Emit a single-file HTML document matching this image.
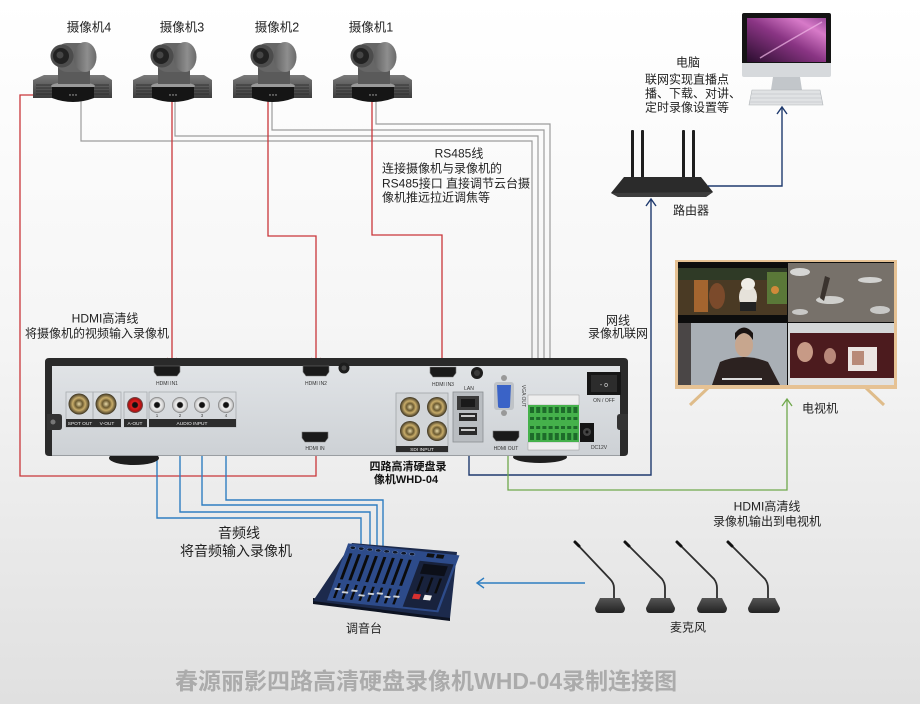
<!DOCTYPE html>
<html><head><meta charset="utf-8">
<style>
html,body{margin:0;padding:0;background:#fff;}
svg{display:block;}
text{font-family:"Liberation Sans","Noto Sans CJK SC","WenQuanYi Zen Hei",sans-serif;}
</style></head><body>
<svg width="920" height="704" viewBox="0 0 920 704" xmlns="http://www.w3.org/2000/svg">
<defs>
<linearGradient id="bg" x1="0" y1="0" x2="0" y2="1">
<stop offset="0" stop-color="#ffffff"/><stop offset="0.45" stop-color="#f6f6f6"/><stop offset="1" stop-color="#e0e0e0"/>
</linearGradient>
<linearGradient id="panel" x1="0" y1="0" x2="0" y2="1"><stop offset="0" stop-color="#e0e3e6"/><stop offset="1" stop-color="#cdd1d5"/></linearGradient>
<linearGradient id="cb" x1="0" y1="0" x2="0" y2="1"><stop offset="0" stop-color="#7a7a7a"/><stop offset="1" stop-color="#3c3c3c"/></linearGradient>
<linearGradient id="ch" x1="0" y1="0" x2="1" y2="0"><stop offset="0" stop-color="#5e5e5e"/><stop offset="0.6" stop-color="#8e8e8e"/><stop offset="1" stop-color="#6a6a6a"/></linearGradient>
<linearGradient id="scr" x1="0" y1="1" x2="1" y2="0"><stop offset="0" stop-color="#2a0d2e"/><stop offset="0.5" stop-color="#8a3584"/><stop offset="0.8" stop-color="#d77ac8"/><stop offset="1" stop-color="#9a4a9a"/></linearGradient>
<radialGradient id="bnc" cx="0.5" cy="0.5" r="0.5"><stop offset="0" stop-color="#e8d9a8"/><stop offset="0.35" stop-color="#6b5a30"/><stop offset="0.6" stop-color="#c9ad6a"/><stop offset="1" stop-color="#3a3220"/></radialGradient>
<radialGradient id="rca" cx="0.5" cy="0.5" r="0.5"><stop offset="0" stop-color="#111"/><stop offset="0.3" stop-color="#111"/><stop offset="0.45" stop-color="#f4f4f4"/><stop offset="0.8" stop-color="#cfcfcf"/><stop offset="1" stop-color="#777"/></radialGradient>
<radialGradient id="rcar" cx="0.5" cy="0.5" r="0.5"><stop offset="0" stop-color="#111"/><stop offset="0.3" stop-color="#111"/><stop offset="0.45" stop-color="#e02020"/><stop offset="0.8" stop-color="#b01010"/><stop offset="1" stop-color="#555"/></radialGradient>
<linearGradient id="mb" x1="0" y1="0" x2="0" y2="1"><stop offset="0" stop-color="#555"/><stop offset="1" stop-color="#222"/></linearGradient>
<g id="cam">
 <path d="M44,75 L104,75 L112,80 L112,98 L33,98 L33,80 Z" fill="url(#cb)"/>
 <g stroke="#2a2a2a" stroke-width="0.8">
  <line x1="36" y1="85" x2="52" y2="85"/><line x1="36" y1="88" x2="52" y2="88"/><line x1="36" y1="91" x2="52" y2="91"/><line x1="36" y1="94" x2="52" y2="94"/>
  <line x1="94" y1="85" x2="109" y2="85"/><line x1="94" y1="88" x2="109" y2="88"/><line x1="94" y1="91" x2="109" y2="91"/><line x1="94" y1="94" x2="109" y2="94"/>
 </g>
 <ellipse cx="73" cy="86" rx="22" ry="4" fill="#9a9a9a"/>
 <path d="M52,87 L94,87 L94,98 Q73,106 52,98 Z" fill="#151515"/>
 <circle cx="70" cy="95" r="0.7" fill="#bbb"/><circle cx="73" cy="95" r="0.7" fill="#bbb"/><circle cx="76" cy="95" r="0.7" fill="#bbb"/>
 <path d="M58,84 L58,66 Q58,60 64,60 L84,60 Q90,60 90,66 L90,84 Z" fill="#5a5a5a"/>
 <rect x="56" y="43" width="38" height="29" rx="11" fill="#666"/>
 <ellipse cx="85" cy="57" rx="11.5" ry="15" fill="url(#ch)"/>
 <circle cx="62" cy="56" r="11.5" fill="#4c4c4c"/>
 <circle cx="61" cy="56" r="8" fill="#222"/>
 <circle cx="60" cy="55" r="3.5" fill="#454545"/>
</g>
</defs>

<rect x="0" y="0" width="920" height="704" fill="url(#bg)"/>

<!-- grey RS485 lines -->
<g fill="none" stroke="#9c9c9c" stroke-width="1.2">
 <path d="M376,100 V124 H550 V396"/>
 <path d="M272,100 V130 H544 V396"/>
 <path d="M175,100 V136 H538 V396"/>
 <path d="M81,100 V141 H532 V396"/>
</g>
<!-- red HDMI lines -->
<g fill="none" stroke="#c9363a" stroke-width="1.3">
 <path d="M172,100 V365"/>
 <path d="M268,100 V236 H316 V365"/>
 <path d="M372,100 V235 H442 V366"/>
 <path d="M36,95 H20 V476 H316 V444"/>
 <polyline points="167,358 172,365 177,358"/>
 <polyline points="311,358 316,365 321,358"/>
 <polyline points="437,359 442,366 447,359"/>
 <polyline points="311,451 316,444 321,451"/>
</g>
<!-- blue audio lines -->
<g fill="none" stroke="#2f7ec1" stroke-width="1.4">
 <path d="M157,431 V518 H361 V546"/>
 <path d="M180,431 V512 H370 V546"/>
 <path d="M202,431 V505 H377 V546"/>
 <path d="M226,431 V500 H383 V546"/>
 <polyline points="152,438 157,431 162,438"/>
 <polyline points="175,438 180,431 185,438"/>
 <polyline points="197,438 202,431 207,438"/>
 <polyline points="221,438 226,431 231,438"/>
 <path d="M585,583 H477"/>
 <polyline points="484,578 477,583 484,588"/>
</g>
<!-- network -->
<g fill="none" stroke="#1f3a6e" stroke-width="1.4">
 <path d="M469,442 V475 H651 V199"/>
 <polyline points="646,206 651,199 656,206"/>
 <path d="M708,186 H782 V107"/>
 <polyline points="777,114 782,107 787,114"/>
</g>
<!-- green HDMI out -->
<g fill="none" stroke="#6fa84c" stroke-width="1.3">
 <path d="M508,442 V490 H787 V399"/>
 <polyline points="782,406 787,399 792,406"/>
</g>

<!-- cameras -->
<use href="#cam" x="0" y="0"/>
<use href="#cam" x="100" y="0"/>
<use href="#cam" x="200" y="0"/>
<use href="#cam" x="300" y="0"/>

<!-- camera labels -->
<g font-size="12.5" fill="#222" text-anchor="middle">
 <text x="89" y="31.5">摄像机4</text>
 <text x="182" y="31.5">摄像机3</text>
 <text x="277" y="31.5">摄像机2</text>
 <text x="371" y="31.5">摄像机1</text>
</g>

<!-- RS485 text -->
<g font-size="12" fill="#222">
 <text x="459" y="157.5" text-anchor="middle">RS485线</text>
 <text x="382" y="172.5">连接摄像机与录像机的</text>
 <text x="382" y="187.5">RS485接口 直接调节云台摄</text>
 <text x="382" y="201.5">像机推远拉近调焦等</text>
</g>

<!-- PC -->
<rect x="742" y="13" width="89" height="52" rx="2" fill="#141414"/>
<rect x="747" y="18" width="79" height="44" fill="url(#scr)"/>
<path d="M760,58 Q790,40 822,22" stroke="#f2b8e8" stroke-width="1.5" fill="none" opacity="0.7"/>
<path d="M742,63 h89 v12 q0,2 -2,2 h-85 q-2,0 -2,-2z" fill="#d6d9dc"/>
<path d="M773,77 h27 l2,13 h-31z" fill="#c2c6ca"/>
<path d="M752,90 h68 l3,15 h-74z" fill="#e0e2e4" stroke="#aeb2b6" stroke-width="0.6"/>
<g stroke="#b8bcc0" stroke-width="0.6">
 <line x1="752" y1="94" x2="821" y2="94"/><line x1="751" y1="98" x2="822" y2="98"/><line x1="750" y1="102" x2="822" y2="102"/>
</g>
<g font-size="12" fill="#222">
 <text x="688" y="66.5" text-anchor="middle">电脑</text>
 <text x="645" y="83.5">联网实现直播点</text>
 <text x="645" y="97.5">播、下载、对讲、</text>
 <text x="645" y="111.5">定时录像设置等</text>
</g>

<!-- router -->
<g fill="#1e1e1e">
 <rect x="631" y="130" width="3" height="50" rx="1"/>
 <rect x="641" y="130" width="3" height="50" rx="1"/>
 <rect x="682" y="130" width="3" height="50" rx="1"/>
 <rect x="692" y="130" width="3" height="50" rx="1"/>
</g>
<path d="M611,193 L624,177 L701,177 L713,192 L706,197 L618,197 Z" fill="#2b2b2b"/>
<path d="M611,193 L713,192 L706,197 L618,197 Z" fill="#3d3d3d"/>
<text x="691" y="214.5" font-size="12" fill="#222" text-anchor="middle">路由器</text>

<!-- network labels -->
<g font-size="12" fill="#222" text-anchor="middle">
 <text x="618" y="324.5">网线</text>
 <text x="618" y="337.5">录像机联网</text>
 <text x="105" y="322.5">HDMI高清线</text>
 <text x="97" y="337.5">将摄像机的视频输入录像机</text>
</g>

<!-- TV -->
<line x1="690" y1="405" x2="708" y2="388" stroke="#dfbc8a" stroke-width="3"/>
<line x1="884" y1="405" x2="866" y2="388" stroke="#dfbc8a" stroke-width="3"/>
<rect x="675" y="260" width="222" height="129" fill="#e6c294"/>
<rect x="678" y="262" width="216" height="123" fill="#0d0d0d"/>
<!-- TL quadrant -->
<rect x="678" y="268" width="109" height="47" fill="#4a3a24"/>
<rect x="678" y="268" width="109" height="12" fill="#2f3a26"/>
<rect x="694" y="280" width="14" height="32" fill="#a4652f"/>
<ellipse cx="717" cy="296" rx="8" ry="13" fill="#7b4a2b"/>
<ellipse cx="748" cy="297" rx="9" ry="12" fill="#e6e2da"/>
<ellipse cx="748" cy="284" rx="7" ry="6" fill="#f0ede6"/>
<rect x="740" y="302" width="16" height="9" fill="#222"/>
<rect x="767" y="272" width="20" height="32" fill="#5a7838"/>
<circle cx="775" cy="290" r="4" fill="#d08a3a"/>
<!-- TR quadrant -->
<rect x="788" y="263" width="106" height="59" fill="#77716a"/>
<ellipse cx="800" cy="272" rx="10" ry="4" fill="#d6d6d4"/>
<ellipse cx="830" cy="300" rx="14" ry="4" fill="#cfcfcc"/>
<ellipse cx="870" cy="280" rx="12" ry="3" fill="#d2d2d0"/>
<ellipse cx="880" cy="310" rx="10" ry="4" fill="#c8c8c6"/>
<ellipse cx="800" cy="312" rx="8" ry="3" fill="#c8c8c6"/>
<path d="M820,298 l5,-22 l5,2 l-6,23z" fill="#3a332e"/>
<!-- BL quadrant -->
<rect x="678" y="323" width="109" height="62" fill="#a9afb5"/>
<rect x="678" y="323" width="13" height="62" fill="#4a4646"/>
<path d="M712,385 L720,362 Q743,352 768,362 L780,385 Z" fill="#2c2220"/>
<ellipse cx="744" cy="345" rx="9" ry="12" fill="#c7a68e"/>
<path d="M735,340 Q744,326 753,340 L753,333 Q744,322 735,333 Z" fill="#1b1412"/>
<rect x="722" y="378" width="40" height="2" fill="#ddd"/>
<!-- BR quadrant -->
<rect x="788" y="323" width="106" height="62" fill="#d4d7d8"/>
<rect x="790" y="333" width="104" height="45" fill="#4c1b1e"/>
<ellipse cx="805" cy="352" rx="8" ry="10" fill="#c79a86"/>
<ellipse cx="830" cy="356" rx="6" ry="8" fill="#b8887a"/>
<rect x="848" y="347" width="29" height="24" fill="#ebe5e2"/>
<rect x="852" y="351" width="12" height="14" fill="#b88a78"/>
<rect x="790" y="378" width="104" height="7" fill="#e2e2e2"/>
<text x="820" y="412.5" font-size="12" fill="#222" text-anchor="middle">电视机</text>

<!-- recorder -->
<ellipse cx="134" cy="458" rx="25" ry="7" fill="#1e1e1e"/>
<ellipse cx="540" cy="457" rx="27" ry="6" fill="#1e1e1e"/>
<path d="M45,362 Q45,358 49,358 L624,358 Q628,358 628,362 L628,452 Q628,456 624,456 L49,456 Q45,456 45,452 Z" fill="#2a2a2a"/>
<rect x="52" y="366" width="568" height="90" fill="url(#panel)"/>
<line x1="52" y1="455.5" x2="620" y2="455.5" stroke="#9a9ea2" stroke-width="1"/>
<path d="M47,414 h12 q3,0 3,3 v10 q0,3 -3,3 h-12z" fill="#333"/>
<circle cx="53" cy="422" r="2.5" fill="#777"/>
<path d="M628,414 h-8 q-3,0 -3,3 v10 q0,3 3,3 h8z" fill="#333"/>
<!-- round ports -->
<circle cx="344" cy="368" r="5.5" fill="#1d1d1d"/><circle cx="344" cy="368" r="2.5" fill="#444"/>
<circle cx="477" cy="373" r="6" fill="#1d1d1d"/><circle cx="477" cy="373" r="3" fill="#3a3a3a"/>
<!-- HDMI ports -->
<g fill="#1a1a1a" stroke="#777" stroke-width="0.6">
 <path d="M154,366 h26 v6 l-3,4 h-20 l-3,-4z"/>
 <path d="M303,366 h26 v6 l-3,4 h-20 l-3,-4z"/>
 <path d="M430,367 h26 v6 l-3,4 h-20 l-3,-4z"/>
 <path d="M302,432 h26 v6 l-3,4 h-20 l-3,-4z"/>
 <path d="M493,431 h26 v6 l-3,4 h-20 l-3,-4z"/>
</g>
<g font-size="5" fill="#333" text-anchor="middle">
 <text x="167" y="385">HDMI IN1</text>
 <text x="316" y="385">HDMI IN2</text>
 <text x="443" y="386">HDMI IN3</text>
 <text x="315" y="450">HDMI  IN</text>
 <text x="506" y="450">HDMI OUT</text>
 <text x="469" y="390">LAN</text>
 <text x="604" y="402">ON / OFF</text>
 <text x="599" y="449">DC12V</text>
</g>
<!-- left connector groups -->
<g fill="none" stroke="#a8acb0" stroke-width="0.8">
 <rect x="66" y="392" width="27" height="35"/>
 <rect x="93" y="392" width="28" height="35"/>
 <rect x="124" y="392" width="23" height="35"/>
 <rect x="149" y="392" width="87" height="35"/>
</g>
<rect x="66" y="419" width="170" height="8" fill="#2d2d2d"/>
<rect x="121" y="419" width="3" height="8" fill="#d4d7da"/>
<rect x="147" y="419" width="2" height="8" fill="#d4d7da"/>
<g font-size="4.8" fill="#eee" text-anchor="middle">
 <text x="80" y="425">SPOT OUT</text>
 <text x="107" y="425">V-OUT</text>
 <text x="135" y="425">A-OUT</text>
 <text x="192" y="425">AUDIO  INPUT</text>
</g>
<g font-size="4.5" fill="#444" text-anchor="middle">
 <text x="157" y="417">1</text><text x="180" y="417">2</text><text x="202" y="417">3</text><text x="226" y="417">4</text>
</g>
<circle cx="79" cy="404" r="10.5" fill="url(#bnc)"/>
<circle cx="106" cy="404" r="10.5" fill="url(#bnc)"/>
<circle cx="135" cy="405" r="8" fill="url(#rcar)"/>
<circle cx="157" cy="405" r="8" fill="url(#rca)"/>
<circle cx="180" cy="405" r="8" fill="url(#rca)"/>
<circle cx="202" cy="405" r="8" fill="url(#rca)"/>
<circle cx="226" cy="405" r="8" fill="url(#rca)"/>
<!-- SDI -->
<rect x="396" y="393" width="52" height="59" fill="#d2d5d8" stroke="#a0a4a8" stroke-width="0.8"/>
<circle cx="410" cy="407" r="10" fill="url(#bnc)"/>
<circle cx="437" cy="407" r="10" fill="url(#bnc)"/>
<circle cx="410" cy="431" r="10" fill="url(#bnc)"/>
<circle cx="437" cy="431" r="10" fill="url(#bnc)"/>
<rect x="396" y="446" width="52" height="6" fill="#2d2d2d"/>
<text x="422" y="451" font-size="4.8" fill="#eee" text-anchor="middle">SDI  INPUT</text>
<!-- LAN -->
<rect x="453" y="392" width="30" height="50" fill="#b9bdc1" stroke="#8a8e92" stroke-width="0.8"/>
<rect x="457" y="396" width="22" height="14" fill="#3b3b3b"/>
<rect x="461" y="399" width="14" height="8" fill="#1a1a1a"/>
<rect x="459" y="413" width="18" height="8" fill="#2a2a2a"/><rect x="461" y="415" width="14" height="2" fill="#ccc"/>
<rect x="459" y="427" width="18" height="8" fill="#2a2a2a"/><rect x="461" y="429" width="14" height="2" fill="#ccc"/>
<!-- VGA -->
<circle cx="504" cy="378" r="3" fill="#999"/><circle cx="504" cy="413" r="3" fill="#999"/>
<rect x="494" y="382" width="20" height="28" rx="3" fill="#bfc3c7"/>
<path d="M497,385 h14 l-1,21 q0,2 -2,2 h-8 q-2,0 -2,-2z" fill="#3a63c7"/>
<text x="522" y="396" font-size="5" fill="#444" text-anchor="middle" transform="rotate(90 522 396)">VGA OUT</text>
<!-- terminal block -->
<rect x="528" y="395" width="51" height="10" fill="#eeeeee" stroke="#888" stroke-width="0.4"/>
<rect x="528" y="442" width="51" height="8" fill="#eeeeee" stroke="#888" stroke-width="0.4"/>
<rect x="528" y="405" width="51" height="37" fill="#45b14b"/>
<g fill="#1d6b2a">
 <rect x="530" y="407" width="4" height="6"/><rect x="536.2" y="407" width="4" height="6"/><rect x="542.4" y="407" width="4" height="6"/><rect x="548.6" y="407" width="4" height="6"/><rect x="554.8" y="407" width="4" height="6"/><rect x="561" y="407" width="4" height="6"/><rect x="567.2" y="407" width="4" height="6"/><rect x="573.4" y="407" width="4" height="6"/>
 <rect x="530" y="417" width="4" height="3"/><rect x="536.2" y="417" width="4" height="3"/><rect x="542.4" y="417" width="4" height="3"/><rect x="548.6" y="417" width="4" height="3"/><rect x="554.8" y="417" width="4" height="3"/><rect x="561" y="417" width="4" height="3"/><rect x="567.2" y="417" width="4" height="3"/><rect x="573.4" y="417" width="4" height="3"/>
 <rect x="530" y="426" width="4" height="3"/><rect x="536.2" y="426" width="4" height="3"/><rect x="542.4" y="426" width="4" height="3"/><rect x="548.6" y="426" width="4" height="3"/><rect x="554.8" y="426" width="4" height="3"/><rect x="561" y="426" width="4" height="3"/><rect x="567.2" y="426" width="4" height="3"/><rect x="573.4" y="426" width="4" height="3"/>
 <rect x="530" y="433" width="4" height="7"/><rect x="536.2" y="433" width="4" height="7"/><rect x="542.4" y="433" width="4" height="7"/><rect x="548.6" y="433" width="4" height="7"/><rect x="554.8" y="433" width="4" height="7"/><rect x="561" y="433" width="4" height="7"/><rect x="567.2" y="433" width="4" height="7"/><rect x="573.4" y="433" width="4" height="7"/>
</g>
<!-- DC jack & switch -->
<rect x="580" y="423" width="14" height="19" fill="#151515"/>
<circle cx="587" cy="432" r="4" fill="#444"/><circle cx="587" cy="432" r="1.5" fill="#111"/>
<rect x="587" y="372" width="34" height="23" fill="#161616"/>
<rect x="591" y="375" width="26" height="17" fill="#2c2c2c"/>
<text x="604" y="387" font-size="7" fill="#ddd" text-anchor="middle">- o</text>
<!-- recorder label -->
<g font-size="11" font-weight="bold" fill="#111" text-anchor="middle">
 <text x="408" y="470">四路高清硬盘录</text>
 <text x="406" y="483">像机WHD-04</text>
</g>

<!-- bottom labels -->
<g font-size="12" fill="#222" text-anchor="middle">
 <text x="767" y="510.5">HDMI高清线</text>
 <text x="767" y="525.5">录像机输出到电视机</text>
 <text x="364" y="632.5">调音台</text>
 <text x="688" y="631.5">麦克风</text>
</g>
<g font-size="14" fill="#222" text-anchor="middle">
 <text x="239" y="538">音频线</text>
 <text x="236" y="556">将音频输入录像机</text>
</g>

<!-- mixer -->
<path d="M313,598 L450,615 L450,621 L313,604 Z" fill="#0d1322"/>
<path d="M352,543 L457,552 L450,618 L313,601 Z" fill="#1c2a4c"/>
<g transform="matrix(1.21,0.13,-0.23,0.62,344,541)">
 <rect x="4" y="3" width="92" height="92" fill="#2d4b8a"/>
 <g fill="#0f1626" stroke="#7b9ad0" stroke-width="0.4">
  <circle cx="9" cy="9" r="2.3"/><circle cx="16" cy="9" r="2.3"/><circle cx="23" cy="9" r="2.3"/><circle cx="30" cy="9" r="2.3"/><circle cx="37" cy="9" r="2.3"/><circle cx="44" cy="9" r="2.3"/><circle cx="51" cy="9" r="2.3"/><circle cx="58" cy="9" r="2.3"/>
 </g>
 <rect x="70" y="5" width="6" height="6" fill="#111"/><rect x="78" y="5" width="6" height="6" fill="#111"/>
 <g fill="#0b0b0b">
  <rect x="8" y="18" width="2.4" height="42"/><rect x="15" y="18" width="2.4" height="42"/><rect x="22" y="18" width="2.4" height="42"/><rect x="29" y="18" width="2.4" height="42"/><rect x="36" y="18" width="2.4" height="42"/><rect x="43" y="18" width="2.4" height="42"/><rect x="50" y="18" width="2.4" height="42"/><rect x="57" y="18" width="2.4" height="42"/>
  <rect x="8" y="66" width="2" height="24"/><rect x="15" y="66" width="2" height="24"/><rect x="22" y="66" width="2" height="24"/><rect x="29" y="66" width="2" height="24"/><rect x="36" y="66" width="2" height="24"/><rect x="43" y="66" width="2" height="24"/><rect x="50" y="66" width="2" height="24"/><rect x="57" y="66" width="2" height="24"/>
 </g>
 <g fill="#cfd3d8">
  <rect x="6.5" y="74" width="5" height="3"/><rect x="13.5" y="78" width="5" height="3"/><rect x="20.5" y="74" width="5" height="3"/><rect x="27.5" y="80" width="5" height="3"/><rect x="34.5" y="76" width="5" height="3"/><rect x="41.5" y="74" width="5" height="3"/><rect x="48.5" y="78" width="5" height="3"/><rect x="55.5" y="76" width="5" height="3"/>
 </g>
 <rect x="66" y="18" width="28" height="74" fill="#18223c"/>
 <rect x="70" y="22" width="20" height="16" fill="#0c0f18"/>
 <g fill="#0b0b0b"><rect x="72" y="42" width="2" height="24"/><rect x="80" y="42" width="2" height="24"/><rect x="87" y="42" width="2" height="24"/></g>
 <rect x="71" y="70" width="6" height="8" fill="#d73030"/>
 <rect x="80" y="70" width="6" height="8" fill="#eeeeee"/>
</g>

<!-- mics -->
<g fill="none" stroke="#2e2e2e" stroke-width="1.8">
 <path d="M575,542 L610,579 Q614,583 614,588 L614,600"/>
 <path d="M625,542 L662,579 Q665,583 665,588 L665,600"/>
 <path d="M677,542 L714,579 Q717,583 717,588 L717,600"/>
 <path d="M728,542 L765,579 Q768,583 768,588 L768,600"/>
</g>
<g stroke="#111" stroke-width="3" stroke-linecap="round">
 <line x1="575" y1="542" x2="579" y2="546"/><line x1="625" y1="542" x2="629" y2="546"/><line x1="677" y1="542" x2="681" y2="546"/><line x1="728" y1="542" x2="732" y2="546"/>
</g>
<g fill="url(#mb)">
 <path d="M600,598 L620,598 L625,608 Q625,613 621,613 L599,613 Q595,613 595,608 Z"/>
 <path d="M651,598 L670,598 L675,608 Q675,613 671,613 L650,613 Q646,613 646,608 Z"/>
 <path d="M702,598 L722,598 L727,608 Q727,613 723,613 L701,613 Q697,613 697,608 Z"/>
 <path d="M753,598 L775,598 L780,608 Q780,613 776,613 L752,613 Q748,613 748,608 Z"/>
</g>

<!-- title -->
<text x="175" y="689" font-size="23" font-weight="bold" fill="#ababab">春源丽影四路高清硬盘录像机WHD-04录制连接图</text>
</svg>
</body></html>
